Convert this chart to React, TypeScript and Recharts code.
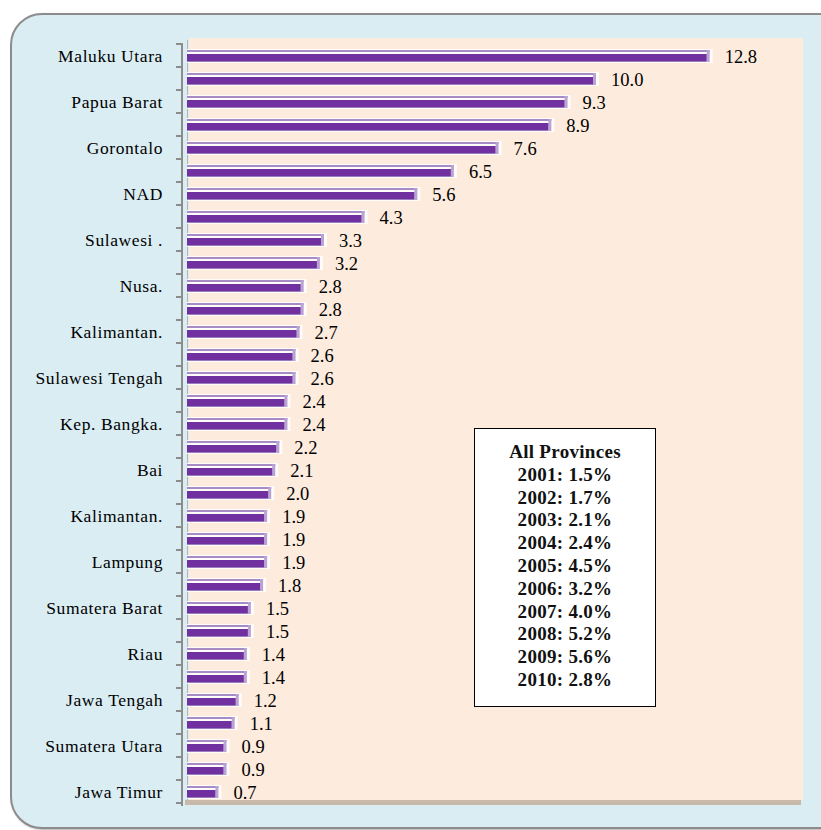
import React from "react";
import { BarChart, Bar, XAxis, YAxis, LabelList } from "recharts";

const provinceLabels = [
  "Maluku Utara", "", "Papua Barat", "", "Gorontalo", "", "NAD", "",
  "Sulawesi .", "", "Nusa.", "", "Kalimantan.", "", "Sulawesi Tengah", "",
  "Kep. Bangka.", "", "Bai", "", "Kalimantan.", "", "Lampung", "",
  "Sumatera Barat", "", "Riau", "", "Jawa Tengah", "", "Sumatera Utara", "",
  "Jawa Timur",
];
const growthValues = [
  12.8, 10.0, 9.3, 8.9, 7.6, 6.5, 5.6, 4.3, 3.3, 3.2, 2.8, 2.8, 2.7, 2.6, 2.6, 2.4,
  2.4, 2.2, 2.1, 2.0, 1.9, 1.9, 1.9, 1.8, 1.5, 1.5, 1.4, 1.4, 1.2, 1.1, 0.9, 0.9, 0.7,
];
const boxTitle = "All Provinces";
const boxYears = ["2001", "2002", "2003", "2004", "2005", "2006", "2007", "2008", "2009", "2010"];
const boxValues = ["1.5", "1.7", "2.1", "2.4", "4.5", "3.2", "4.0", "5.2", "5.6", "2.8"];

const data = provinceLabels.map((name, i) => ({ name, value: growthValues[i] }));

const W = 821;
const H = 830;
const TOP = 44;
const BOTTOM = 27;
const BAND = (H - TOP - BOTTOM) / data.length;
const SERIF = "Liberation Serif, serif";

const BarShape = (props: any) => {
  const { x, y, width, height } = props;
  if (width == null || width <= 0) return null;
  return (
    <g>
      <rect x={x} y={y - 1} width={width + 6} height={height + 2} fill="#ffffff" fillOpacity={0.85} />
      <rect x={x} y={y} width={width + 3} height={2} fill="#a68bc6" />
      <rect x={x + width} y={y} width={3} height={height} fill="#b9a3d4" />
      <rect x={x} y={y + 4} width={width} height={height - 5} fill="#7030a0" />
      <rect x={x} y={y + height - 1} width={width} height={1} fill="#9a7cbd" />
    </g>
  );
};

const Tick = (props: any) => {
  const { x, y, payload, index } = props;
  const last = index === data.length - 1;
  return (
    <g>
      <line x1={x + 13} x2={x + 20} y1={y - BAND / 2} y2={y - BAND / 2} stroke="#8c8c8c" strokeWidth={2} />
      {last && (
        <line x1={x + 13} x2={x + 20} y1={y + BAND / 2} y2={y + BAND / 2} stroke="#8c8c8c" strokeWidth={2} />
      )}
      {payload.value ? (
        <text x={x} y={y} dy={6} textAnchor="end" fontFamily={SERIF} fontSize={17.5} letterSpacing={0.6} fill="#000">
          {payload.value}
        </text>
      ) : null}
    </g>
  );
};

export default function App() {
  return (
    <div style={{ position: "absolute", left: 0, top: 0, width: W, height: H, overflow: "hidden", background: "#ffffff" }}>
      <div
        style={{
          position: "absolute", left: 10, top: 13, width: 840, height: 812,
          background: "#daedf3", border: "2px solid #8c8c8c", borderRadius: 32,
          boxShadow: "1px 1px 2px rgba(0,0,0,0.3)",
        }}
      />
      <div style={{ position: "absolute", left: 189, top: 38, width: 614, height: 762, background: "#fdebdd" }} />
      <div style={{ position: "absolute", left: 187, top: 40, width: 1, height: 762, background: "#b5b5b5" }} />
      <div style={{ position: "absolute", left: 185, top: 800, width: 616, height: 5, background: "#c9b9aa" }} />
      <div style={{ position: "absolute", left: 181, top: 43, width: 2, height: 763, background: "#8c8c8c" }} />
      <div style={{ position: "absolute", left: 0, top: 0 }}>
        <BarChart
          width={W}
          height={H}
          data={data}
          layout="vertical"
          margin={{ top: TOP, right: 25, bottom: BOTTOM, left: 0 }}
          barSize={12}
        >
          <XAxis type="number" domain={[0, 15]} hide />
          <YAxis
            type="category"
            dataKey="name"
            width={187}
            axisLine={false}
            tickLine={false}
            tickSize={8}
            tickMargin={16}
            interval={0}
            tick={<Tick />}
            allowDuplicatedCategory={true}
          />
          <Bar dataKey="value" isAnimationActive={false} shape={<BarShape />}>
            <LabelList
              dataKey="value"
              position="right"
              offset={18}
              formatter={(v: any) => Number(v).toFixed(1)}
              style={{ fontFamily: SERIF, fontSize: 18.5, fill: "#000" }}
            />
          </Bar>
        </BarChart>
      </div>
      <div
        style={{
          position: "absolute", left: 474, top: 428, width: 182, height: 279,
          background: "#ffffff", border: "1.5px solid #000", boxSizing: "border-box",
          fontFamily: SERIF, fontWeight: "bold", fontSize: 19, letterSpacing: 0.3, textAlign: "center",
          paddingTop: 12, lineHeight: "22.8px", color: "#111",
        }}
      >
        <div>{boxTitle}</div>
        {boxYears.map((y, i) => (
          <div key={y}>{`${y}: ${boxValues[i]}%`}</div>
        ))}
      </div>
    </div>
  );
}
